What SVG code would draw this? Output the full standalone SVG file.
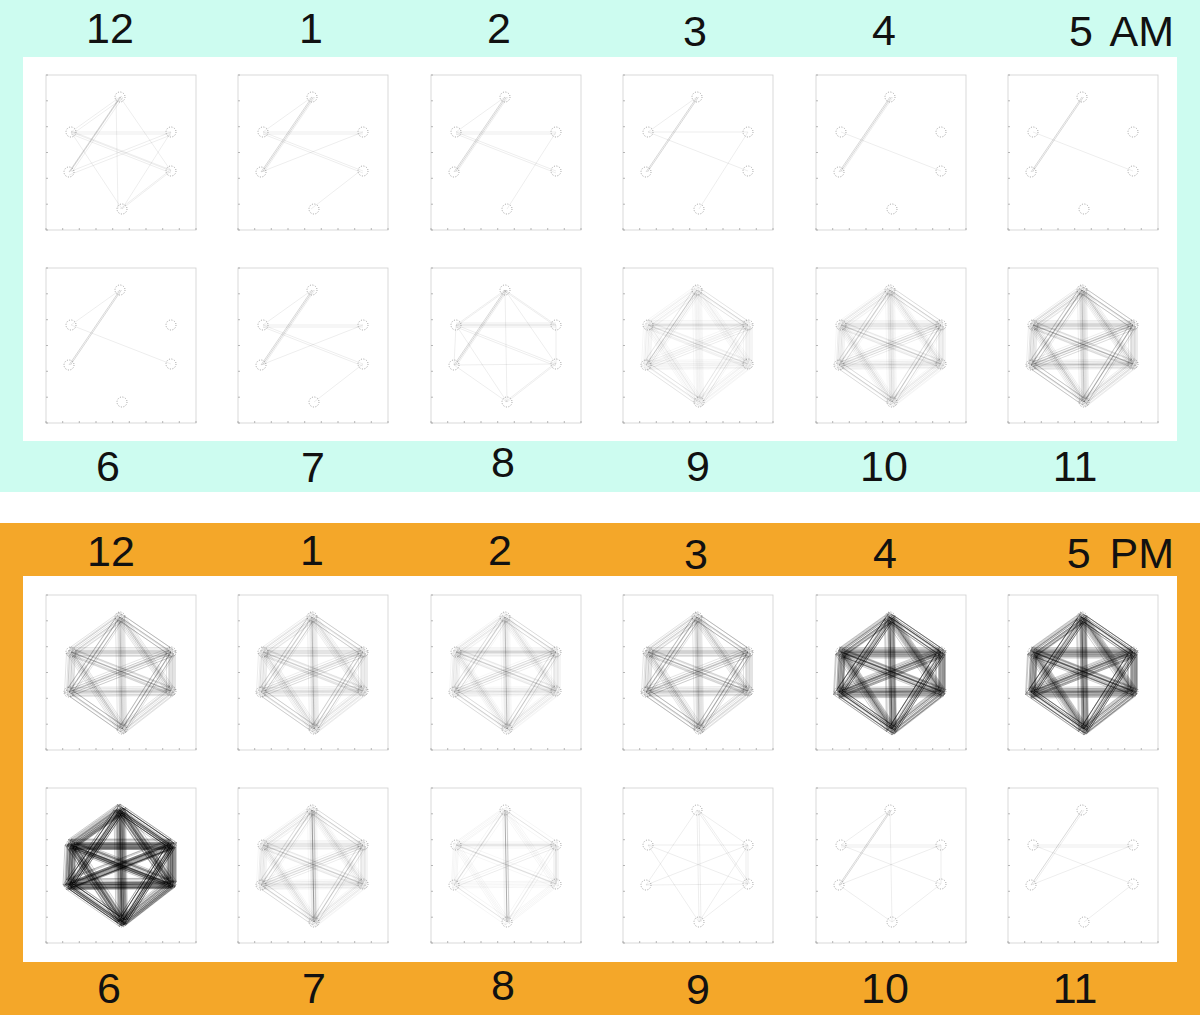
<svg xmlns="http://www.w3.org/2000/svg" width="1200" height="1015" viewBox="0 0 1200 1015">
<style>
.lbl{font-family:"Liberation Sans",Arial,sans-serif;font-size:43px;fill:#111;text-anchor:middle}
.plot{stroke:#000;stroke-width:0.6;fill:none}
.o1{stroke-opacity:.12}
.o2{stroke-opacity:.26}
.o3{stroke-opacity:.5}
.d1{stroke-opacity:.07}
.d2{stroke-opacity:.13}
.d3{stroke-opacity:.19}
.d4{stroke-opacity:.34}
</style>
<defs>
<g id="frame">
<rect x="0" y="0" width="150" height="155" fill="#fff" stroke="#cfcfcf" stroke-width="0.8"/>
<path d="M0 155v-2M16.7 155v-2M33.3 155v-2M50 155v-2M66.7 155v-2M83.3 155v-2M100 155v-2M116.7 155v-2M133.3 155v-2M150 155v-2M0 0h2M0 25.8h2M0 51.7h2M0 77.5h2M0 103.3h2M0 129.2h2M0 155h2" stroke="#999" stroke-width="0.7" fill="none"/>
</g>
<g id="nodes" fill="none" stroke="#777" stroke-width="0.7" stroke-dasharray="1 1.6">
<circle cx="74" cy="22" r="5"/>
<circle cx="25" cy="57" r="5"/>
<circle cx="125" cy="57" r="5"/>
<circle cx="23" cy="97" r="5"/>
<circle cx="125" cy="96" r="5"/>
<circle cx="76" cy="134" r="5"/>
</g>
<line id="tul" x1="74" y1="22" x2="25" y2="57"/>
<line id="tur" x1="74" y1="22" x2="125" y2="57"/>
<line id="tll" x1="74" y1="22" x2="23" y2="97"/>
<line id="tlr" x1="74" y1="22" x2="125" y2="96"/>
<line id="tb" x1="74" y1="22" x2="76" y2="134"/>
<line id="ulur" x1="25" y1="57" x2="125" y2="57"/>
<line id="ulll" x1="25" y1="57" x2="23" y2="97"/>
<line id="ullr" x1="25" y1="57" x2="125" y2="96"/>
<line id="ulb" x1="25" y1="57" x2="76" y2="134"/>
<line id="urll" x1="125" y1="57" x2="23" y2="97"/>
<line id="urlr" x1="125" y1="57" x2="125" y2="96"/>
<line id="urb" x1="125" y1="57" x2="76" y2="134"/>
<line id="lllr" x1="23" y1="97" x2="125" y2="96"/>
<line id="llb" x1="23" y1="97" x2="76" y2="134"/>
<line id="lrb" x1="125" y1="96" x2="76" y2="134"/>
<g id="K">
<use href="#tul"/><use href="#tur"/><use href="#tll"/><use href="#tlr"/><use href="#tb"/>
<use href="#ulur"/><use href="#ulll"/><use href="#ullr"/><use href="#ulb"/><use href="#urll"/>
<use href="#urlr"/><use href="#urb"/><use href="#lllr"/><use href="#llb"/><use href="#lrb"/>
</g>
<g id="K5">
<use href="#K"/><use href="#K" x="2.5" y="1.5"/><use href="#K" x="-2.5" y="-1.5"/><use href="#K" x="1.5" y="-3"/><use href="#K" x="-1.5" y="3"/>
</g>
<g id="K5w">
<use href="#K" x="4.5" y="-1"/><use href="#K" x="-4.5" y="1"/><use href="#K" x="1" y="4.5"/><use href="#K" x="-1" y="-4.5"/><use href="#K" x="3.5" y="3.5"/>
</g>
<g id="E">
<use href="#tll"/><use href="#ullr"/><use href="#urll"/><use href="#tb"/><use href="#ulur"/><use href="#lllr"/><use href="#tlr"/><use href="#ulb"/><use href="#urb"/>
</g>
</defs>

<rect x="0" y="0" width="1200" height="492" fill="#cdfcf0"/>
<rect x="23" y="57" width="1154" height="384" fill="#fff"/>
<rect x="0" y="523" width="1200" height="492" fill="#f4a729"/>
<rect x="23" y="576" width="1154" height="386" fill="#fff"/>

<g id="labels-am">
<text class="lbl" x="110" y="43">12</text>
<text class="lbl" x="311" y="43">1</text>
<text class="lbl" x="499" y="43">2</text>
<text class="lbl" x="695" y="46">3</text>
<text class="lbl" x="884" y="45">4</text>
<text class="lbl" x="1174" y="46" style="text-anchor:end" word-spacing="7">5 AM</text>
<text class="lbl" x="108" y="481">6</text>
<text class="lbl" x="313" y="482">7</text>
<text class="lbl" x="503" y="477">8</text>
<text class="lbl" x="698" y="481">9</text>
<text class="lbl" x="884" y="481">10</text>
<text class="lbl" x="1075" y="481">11</text>
</g>
<g id="labels-pm">
<text class="lbl" x="111" y="566">12</text>
<text class="lbl" x="312" y="565">1</text>
<text class="lbl" x="500" y="565">2</text>
<text class="lbl" x="696" y="569">3</text>
<text class="lbl" x="885" y="568">4</text>
<text class="lbl" x="1174" y="568" style="text-anchor:end" word-spacing="7">5 PM</text>
<text class="lbl" x="109" y="1003">6</text>
<text class="lbl" x="314" y="1003">7</text>
<text class="lbl" x="503" y="1000">8</text>
<text class="lbl" x="698" y="1004">9</text>
<text class="lbl" x="885" y="1003">10</text>
<text class="lbl" x="1075" y="1003">11</text>
</g>

<!-- AM top row -->
<g id="am12" class="plot" transform="translate(46,75)">
<use href="#frame"/>
<use href="#tll" class="o2"/><use href="#tll" class="o2" x="1.5" y="-1"/><use href="#tll" class="o1" x="3"/>
<use href="#tul" class="o1"/><use href="#tul" class="o1" x="3" y="1"/><use href="#tlr" class="o1"/><use href="#tb" class="o1" x="-4"/>
<use href="#ulur" class="o1"/><use href="#ulur" class="o1" y="2"/>
<use href="#ullr" class="o1"/><use href="#ullr" class="o1" y="2"/><use href="#ullr" class="o1" y="-1"/>
<use href="#urll" class="o1"/><use href="#urll" class="o1" y="3"/>
<use href="#ulb" class="o1"/><use href="#urb" class="o1"/><use href="#lrb" class="o1"/><use href="#lrb" class="o1" x="-2"/>
<use href="#nodes"/>
</g>
<g id="am1" class="plot" transform="translate(238,75)">
<use href="#frame"/>
<use href="#tll" class="o2"/><use href="#tll" class="o2" x="1.5"/><use href="#tll" class="o1" x="3"/>
<use href="#tul" class="o1"/><use href="#ulur" class="o1"/><use href="#ulur" class="o1" y="2"/>
<use href="#ullr" class="o1"/><use href="#ullr" class="o1" y="2"/><use href="#urll" class="o1"/><use href="#lrb" class="o1" x="-3"/>
<use href="#nodes"/>
</g>
<g id="am2" class="plot" transform="translate(431,75)">
<use href="#frame"/>
<use href="#tll" class="o2"/><use href="#tll" class="o2" x="1.5"/><use href="#tll" class="o1" x="3"/>
<use href="#tul" class="o1"/><use href="#ulur" class="o1"/><use href="#ulur" class="o1" y="2"/>
<use href="#ullr" class="o1"/><use href="#ullr" class="o1" y="2"/><use href="#urb" class="o1"/>
<use href="#nodes"/>
</g>
<g id="am3" class="plot" transform="translate(623,75)">
<use href="#frame"/>
<use href="#tll" class="o2"/><use href="#tll" class="o2" x="1.5"/>
<use href="#tul" class="o1"/><use href="#ulur" class="o1"/><use href="#ullr" class="o1"/><use href="#urb" class="o1"/>
<use href="#nodes"/>
</g>
<g id="am4" class="plot" transform="translate(816,75)">
<use href="#frame"/>
<use href="#tll" class="o2"/><use href="#tll" class="o2" x="1.5"/><use href="#tll" class="o1" x="3"/>
<use href="#ullr" class="o1"/>
<use href="#nodes"/>
</g>
<g id="am5" class="plot" transform="translate(1008,75)">
<use href="#frame"/>
<use href="#tll" class="o2"/><use href="#tll" class="o2" x="1.5"/>
<use href="#ullr" class="o1"/>
<use href="#nodes"/>
</g>

<!-- AM bottom row -->
<g id="am6" class="plot" transform="translate(46,268)">
<use href="#frame"/>
<use href="#tll" class="o2"/><use href="#tll" class="o2" x="1.5"/>
<use href="#ullr" class="o1"/><use href="#tul" class="o1"/>
<use href="#nodes"/>
</g>
<g id="am7" class="plot" transform="translate(238,268)">
<use href="#frame"/>
<use href="#tll" class="o2"/><use href="#tll" class="o2" x="1.5"/><use href="#tll" class="o1" x="3"/>
<use href="#tul" class="o1"/><use href="#ulur" class="o1"/><use href="#ulur" class="o1" y="2"/>
<use href="#ullr" class="o1"/><use href="#ullr" class="o1" y="2"/><use href="#lrb" class="o1"/><use href="#urll" class="o1"/>
<use href="#nodes"/>
</g>
<g id="am8" class="plot" transform="translate(431,268)">
<use href="#frame"/>
<use href="#tll" class="o2"/><use href="#tll" class="o2" x="1.5"/><use href="#tll" class="o1" x="3"/>
<use href="#tul" class="o1"/><use href="#tul" class="o1" x="2"/><use href="#tur" class="o1"/><use href="#tur" class="o1" x="-2"/>
<use href="#ulur" class="o2"/><use href="#ulur" class="o1" y="2"/><use href="#ulur" class="o1" y="-2"/>
<use href="#ullr" class="o1"/><use href="#ullr" class="o1" y="2"/><use href="#ulll" class="o1"/>
<use href="#llb" class="o1"/><use href="#lrb" class="o1"/><use href="#lrb" class="o1" x="-2"/>
<use href="#urlr" class="o1"/><use href="#tlr" class="o1"/><use href="#ulb" class="o1"/><use href="#lllr" class="o1"/><use href="#tb" class="o1"/>
<use href="#nodes"/>
</g>
<g id="am9" class="plot" transform="translate(623,268)">
<use href="#frame"/>
<use href="#K5" class="d1"/>
<use href="#K5w" class="d1"/>
<use href="#tll" class="o2"/><use href="#ulur" class="o2"/><use href="#tur" class="o1"/><use href="#ullr" class="o1"/><use href="#tll" class="o1" x="2"/>
<use href="#nodes"/>
</g>
<g id="am10" class="plot" transform="translate(816,268)">
<use href="#frame"/>
<use href="#K5" class="d2"/>
<use href="#K5w" class="d1"/>
<use href="#E" class="o1"/>
<use href="#nodes"/>
</g>
<g id="am11" class="plot" transform="translate(1008,268)">
<use href="#frame"/>
<use href="#K5" class="d3"/>
<use href="#K5w" class="d2"/>
<use href="#E" class="o2"/>
<use href="#nodes"/>
</g>

<!-- PM top row -->
<g id="pm12" class="plot" transform="translate(46,595)">
<use href="#frame"/>
<use href="#K5" class="d3"/>
<use href="#K5w" class="d3"/>
<use href="#E" class="o2"/>
<use href="#nodes"/>
</g>
<g id="pm1" class="plot" transform="translate(238,595)">
<use href="#frame"/>
<use href="#K5" class="d2"/>
<use href="#K5w" class="d2"/>
<use href="#E" class="o1"/><use href="#tb" class="o2"/>
<use href="#nodes"/>
</g>
<g id="pm2" class="plot" transform="translate(431,595)">
<use href="#frame"/>
<use href="#K5" class="d2"/>
<use href="#K5w" class="d1"/>
<use href="#E" class="o1"/><use href="#tb" class="o2"/><use href="#ulur" class="o2"/>
<use href="#nodes"/>
</g>
<g id="pm3" class="plot" transform="translate(623,595)">
<use href="#frame"/>
<use href="#K5" class="d3"/>
<use href="#K5w" class="d3"/>
<use href="#E" class="o2"/>
<use href="#nodes"/>
</g>
<g id="pm4" class="plot" transform="translate(816,595)">
<use href="#frame"/>
<use href="#K5" class="d4"/>
<use href="#K5" class="d4" transform="translate(1.5,1)"/>
<use href="#K5w" class="d4"/>
<use href="#K5w" class="d4" transform="translate(-1,1.5)"/>
<use href="#E" class="o3"/>
<use href="#nodes"/>
</g>
<g id="pm5" class="plot" transform="translate(1008,595)">
<use href="#frame"/>
<use href="#K5" class="d4"/>
<use href="#K5" class="d4" transform="translate(1.5,1)"/>
<use href="#K5w" class="d4"/>
<use href="#K5w" class="d4" transform="translate(-1,1.5)"/>
<use href="#E" class="o3"/>
<use href="#nodes"/>
</g>

<!-- PM bottom row -->
<g id="pm6" class="plot" transform="translate(46,788)">
<use href="#frame"/>
<use href="#K5" class="d4"/>
<use href="#K5" class="d4" transform="translate(1.5,1)"/>
<use href="#K5" class="d4" transform="translate(-1,1.5)"/>
<use href="#K5w" class="d4"/>
<use href="#K5w" class="d4" transform="translate(1,-1.5)"/>
<use href="#K5w" class="d4" transform="translate(-1.5,-1)"/>
<use href="#E" class="o3"/>
<use href="#nodes"/>
</g>
<g id="pm7" class="plot" transform="translate(238,788)">
<use href="#frame"/>
<use href="#K5" class="d2"/>
<use href="#K5w" class="d1"/>
<use href="#tb" class="o3"/><use href="#tb" class="o2" x="2"/><use href="#E" class="o1"/>
<use href="#nodes"/>
</g>
<g id="pm8" class="plot" transform="translate(431,788)">
<use href="#frame"/>
<use href="#K5" class="d1"/>
<use href="#tb" class="o3"/><use href="#tb" class="o2" x="2"/><use href="#ulur" class="o2"/><use href="#urlr" class="o2"/><use href="#tll" class="o1"/><use href="#ullr" class="o1"/>
<use href="#nodes"/>
</g>
<g id="pm9" class="plot" transform="translate(623,788)">
<use href="#frame"/>
<use href="#tlr" class="o1"/><use href="#tlr" class="o1" x="2"/><use href="#tur" class="o1"/><use href="#urlr" class="o1"/><use href="#urlr" class="o1" x="-2"/>
<use href="#lrb" class="o1"/><use href="#tb" class="o1"/><use href="#tb" class="o1" x="2"/><use href="#ulur" class="o1"/><use href="#urb" class="o1"/>
<use href="#tll" class="o1"/><use href="#lllr" class="o1"/><use href="#ullr" class="o1"/><use href="#urll" class="o1"/><use href="#ulb" class="o1"/>
<use href="#nodes"/>
</g>
<g id="pm10" class="plot" transform="translate(816,788)">
<use href="#frame"/>
<use href="#tll" class="o2"/><use href="#tll" class="o2" x="1.5"/>
<use href="#ulur" class="o1"/><use href="#ulur" class="o1" y="2"/><use href="#urlr" class="o1"/><use href="#lrb" class="o1"/>
<use href="#llb" class="o1"/><use href="#tul" class="o1"/><use href="#ullr" class="o1"/><use href="#urll" class="o1"/><use href="#tb" class="o1"/>
<use href="#nodes"/>
</g>
<g id="pm11" class="plot" transform="translate(1008,788)">
<use href="#frame"/>
<use href="#tll" class="o2"/><use href="#tll" class="o1" x="2"/>
<use href="#ulur" class="o1"/><use href="#ulur" class="o1" y="2"/><use href="#ullr" class="o1"/><use href="#lrb" class="o1"/><use href="#urll" class="o1"/>
<use href="#nodes"/>
</g>
</svg>
